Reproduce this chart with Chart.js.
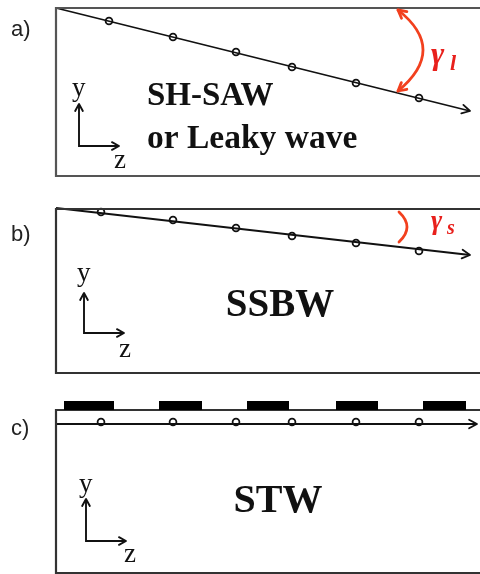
<!DOCTYPE html>
<html lang="en">
<head>
<meta charset="UTF-8">
<title>SH-SAW, SSBW and STW</title>
<script src="https://cdn.jsdelivr.net/npm/chart.js"></script>
<style>
    body { margin: 0; padding: 0; background: #fff; }
    #diagram { display: block; }
</style>
</head>
<body>
<canvas id="diagram" width="480" height="574"></canvas>
<script>
    // diagram units: x 0..480 to the right, y 0..574 downward

    // panel outlines
    const boxA = [[484, 8], [56, 8], [56, 176], [484, 176]];
    const boxB = [[484, 209], [56, 209], [56, 373], [484, 373]];
    const boxC = [[484, 410], [56, 410], [56, 573], [484, 573]];

    // propagation directions (start, tip)
    const waveA = [[56, 8], [470, 111]];
    const waveB = [[56, 208], [470, 255]];
    const waveC = [[56, 424], [477, 424]];

    // particles along each wave
    const particleXA = [109, 173, 236, 292, 356, 419];
    const particleYA = [21, 37, 52, 67, 83, 98];
    const particleXB = [101, 173, 236, 292, 356, 419];
    const particleYB = [212, 220, 228, 236, 243, 251];
    const particleXC = [101, 173, 236, 292, 356, 419];
    const particleYC = [422, 422, 422, 422, 422, 422];

    // grating electrodes on panel c
    const electrodeStart = [64, 159, 247, 336, 423];
    const electrodeEnd = [114, 202, 289, 378, 466];
    const electrodeTop = 401;
    const electrodeBottom = 410;

    // small y/z frames
    const frameA = [[79, 104], [79, 146], [119, 146]];
    const frameB = [[84, 293], [84, 333], [124, 333]];
    const frameC = [[86, 499], [86, 541], [126, 541]];

    // angle arcs: start, middle, end
    const arcA = [[398, 10], [423, 50], [398, 91]];
    const arcB = [[399, 212], [407, 227], [399, 242]];

    const panelLabels = ['a)', 'b)', 'c)'];
    const waveNames = [['SH-SAW', 'or Leaky wave'], ['SSBW'], ['STW']];

    const toXY = arr => arr.map(p => ({ x: p[0], y: p[1] }));
    const zipXY = (xs, ys) => xs.map((x, i) => ({ x: x, y: ys[i] }));

    function outline(pts, color) {
        return { data: toXY(pts), showLine: true, borderColor: color, borderWidth: 2.2,
                 pointRadius: 0, fill: false, tension: 0 };
    }
    function wave(pts) {
        return { data: toXY(pts), showLine: true, borderColor: '#111', borderWidth: 1.8,
                 pointRadius: 0, fill: false, tension: 0, arrow: 'end', arrowSize: 9 };
    }
    function particles(xs, ys) {
        return { data: zipXY(xs, ys), showLine: false, pointRadius: 3.4,
                 pointBackgroundColor: '#fff', pointBorderColor: '#111', pointBorderWidth: 1.8 };
    }
    function frame(pts) {
        return { data: toXY(pts), showLine: true, borderColor: '#111', borderWidth: 1.9,
                 pointRadius: 0, fill: false, tension: 0, arrow: 'both', arrowSize: 8 };
    }

    function drawHead(ctx, tx, ty, fx, fy, L, color, width) {
        const a = Math.atan2(ty - fy, tx - fx);
        ctx.save();
        ctx.strokeStyle = color;
        ctx.lineWidth = width;
        ctx.lineCap = 'round';
        ctx.lineJoin = 'round';
        ctx.beginPath();
        ctx.moveTo(tx - L * Math.cos(a - 0.5), ty - L * Math.sin(a - 0.5));
        ctx.lineTo(tx, ty);
        ctx.lineTo(tx - L * Math.cos(a + 0.5), ty - L * Math.sin(a + 0.5));
        ctx.stroke();
        ctx.restore();
    }

    // arrowheads at line ends, using the element positions from the scales
    const arrowHeads = {
        id: 'arrowHeads',
        afterDatasetsDraw(chart) {
            const ctx = chart.ctx;
            chart.data.datasets.forEach((ds, i) => {
                if (!ds.arrow) return;
                const pts = chart.getDatasetMeta(i).data;
                const n = pts.length;
                if (ds.arrow === 'end' || ds.arrow === 'both') {
                    drawHead(ctx, pts[n - 1].x, pts[n - 1].y, pts[n - 2].x, pts[n - 2].y, ds.arrowSize, ds.borderColor, ds.borderWidth);
                }
                if (ds.arrow === 'both') {
                    drawHead(ctx, pts[0].x, pts[0].y, pts[1].x, pts[1].y, ds.arrowSize, ds.borderColor, ds.borderWidth);
                }
            });
        }
    };

    // electrodes, angle arcs and text
    const annotations = {
        id: 'annotations',
        afterDatasetsDraw(chart) {
            const ctx = chart.ctx;
            const sx = chart.scales.x, sy = chart.scales.y;
            const X = v => sx.getPixelForValue(v);
            const Y = v => sy.getPixelForValue(v);

            ctx.save();
            ctx.fillStyle = '#000';
            electrodeStart.forEach((s, i) => {
                ctx.fillRect(X(s), Y(electrodeTop), X(electrodeEnd[i]) - X(s), Y(electrodeBottom) - Y(electrodeTop));
            });

            // quadratic arc through three points
            const red = '#f2401e';
            const drawArc = (pts, heads) => {
                const p0 = { x: X(pts[0][0]), y: Y(pts[0][1]) };
                const p1 = { x: X(pts[1][0]), y: Y(pts[1][1]) };
                const p2 = { x: X(pts[2][0]), y: Y(pts[2][1]) };
                const c = { x: 2 * p1.x - (p0.x + p2.x) / 2, y: 2 * p1.y - (p0.y + p2.y) / 2 };
                ctx.strokeStyle = red;
                ctx.lineWidth = 2.8;
                ctx.lineCap = 'round';
                ctx.beginPath();
                ctx.moveTo(p0.x, p0.y);
                ctx.quadraticCurveTo(c.x, c.y, p2.x, p2.y);
                ctx.stroke();
                if (heads) {
                    drawHead(ctx, p0.x, p0.y, c.x, c.y, 9, red, 2.8);
                    drawHead(ctx, p2.x, p2.y, c.x, c.y, 9, red, 2.8);
                }
            };
            drawArc(arcA, true);
            drawArc(arcB, false);

            const text = (t, x, y, font, color, align) => {
                ctx.font = font;
                ctx.fillStyle = color;
                ctx.textAlign = align || 'left';
                ctx.textBaseline = 'alphabetic';
                ctx.fillText(t, X(x), Y(y));
            };

            // panel letters
            const labelY = [36, 241, 435];
            panelLabels.forEach((l, i) => text(l, 11, labelY[i], '22px "Liberation Sans", Arial, sans-serif', '#222'));

            // wave names
            const bold = s => 'bold ' + s + 'px "Liberation Serif", "Times New Roman", serif';
            text(waveNames[0][0], 147, 105, bold(33), '#111');
            text(waveNames[0][1], 147, 148, bold(33.5), '#111');
            text(waveNames[1][0], 280, 316, bold(39), '#111', 'center');
            text(waveNames[2][0], 278, 512, bold(40), '#111', 'center');

            // frame letters
            const serif = '27px "Liberation Serif", "Times New Roman", serif';
            text('y', 72, 96, serif, '#111');
            text('z', 114, 168, serif, '#111');
            text('y', 77, 281, serif, '#111');
            text('z', 119, 357, serif, '#111');
            text('y', 79, 492, serif, '#111');
            text('z', 124, 562, serif, '#111');

            // angle symbols
            const ital = s => 'italic bold ' + s + 'px "Liberation Serif", "Times New Roman", serif';
            text('γ', 431, 64, ital(32), '#e8201c');
            text('l', 450, 70, ital(22), '#e8201c');
            text('γ', 431, 229, ital(27), '#e8201c');
            text('s', 447, 234, ital(20), '#e8201c');
            ctx.restore();
        }
    };

    new Chart(document.getElementById('diagram'), {
        type: 'scatter',
        data: {
            datasets: [
                outline(boxA, '#555'), outline(boxB, '#333'), outline(boxC, '#333'),
                wave(waveA), wave(waveB), wave(waveC),
                particles(particleXA, particleYA),
                particles(particleXB, particleYB),
                particles(particleXC, particleYC),
                frame(frameA), frame(frameB), frame(frameC)
            ]
        },
        options: {
            responsive: false,
            animation: false,
            layout: { padding: 0, autoPadding: false },
            plugins: { legend: { display: false }, tooltip: { enabled: false } },
            scales: {
                x: { type: 'linear', min: 0, max: 480, display: false },
                y: { type: 'linear', min: 0, max: 574, reverse: true, display: false }
            },
            clip: false
        },
        plugins: [annotations, arrowHeads]
    });
</script>
</body>
</html>
